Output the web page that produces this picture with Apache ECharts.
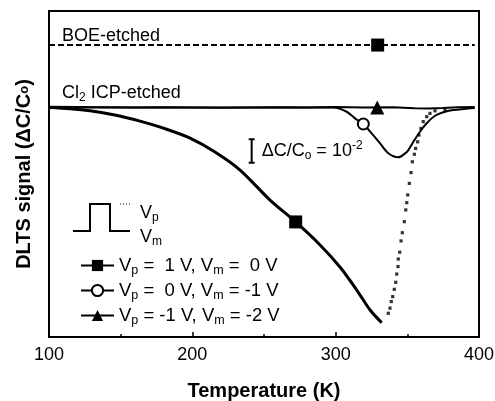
<!DOCTYPE html>
<html><head><meta charset="utf-8">
<script src="https://cdn.jsdelivr.net/npm/echarts@6/dist/echarts.min.js"></script>
<style>html,body{margin:0;padding:0;background:#fff}#c{width:495px;height:401px}</style>
</head><body><div id="c"></div>
<script>
// ---- data (DLTS signal in units of 1e-2 ΔC/Co, Cl2 baseline = 0) ----
const xTicks = [100, 200, 300, 400];
const yRange = [-9.77, 4.11];

// Vp = 1 V, Vm = 0 V (Cl2 ICP-etched) : solid part
const sqT = [100, 114.7, 128.6, 146, 163.5, 180.9, 198.4, 215.8, 233.3, 254.2, 272.1, 289.1, 303.0, 314.7, 324.0, 332.1];
const sqV = [0, -0.05, -0.14, -0.32, -0.58, -0.90, -1.30, -1.89, -2.66, -3.94, -4.87, -5.85, -6.79, -7.77, -8.62, -9.16];
// Vp = 1 V, Vm = 0 V : sparse dotted recovery
const dotT = [336.7,337.9,338.8,339.8,340.9,341.9,342.6,343.5,343.7,344.7,345.6,346.5,347.9,348.9,349.6,350.3,351.4,352.6,353.5,354.9,355.8,357.2,358.1,359.5,361.1,363.5,365.8,369.3,376.3];
const dotV = [-8.76,-8.54,-8.26,-8.05,-7.74,-7.44,-7.09,-6.77,-6.45,-6.16,-5.68,-5.33,-4.86,-4.36,-4.05,-3.72,-3.23,-2.77,-2.31,-1.99,-1.74,-1.46,-1.17,-0.89,-0.60,-0.39,-0.25,-0.14,-0.11];

// Vp = 0 V, Vm = -1 V
const ciT = [100, 200, 290, 298.4, 307.7, 313.5, 319.3, 325.1, 330.9, 336.7, 343.7, 348.4, 350.7, 354.2, 358.8, 363.5, 369.3, 376.3, 382.1, 397];
const ciV = [0, 0, 0, 0, -0.18, -0.46, -0.70, -1.10, -1.52, -1.95, -2.12, -1.95, -1.81, -1.46, -1.03, -0.67, -0.35, -0.18, -0.11, -0.02];

// Vp = -1 V, Vm = -2 V
const trT = [100, 120, 140, 160, 180, 200, 220, 240, 260, 280, 300, 320, 340, 355, 365, 375, 385, 397];
const trV = [0.03, 0.02, 0.01, 0, 0.01, 0, -0.01, 0, 0.01, 0, 0.02, 0, 0.01, -0.03, -0.04, -0.02, 0.01, 0.02];

// BOE-etched
const boeT = [100, 397];
const boeV = [2.66, 2.66];

// single marker positions
const boeMark = [329.3, 2.66];
const sqMark = [272.1, -4.87];
const ciMark = [319.3, -0.70];
const trMark = [329.0, 0.0];

// scale bar (1 unit = 1e-2)
const scaleT = 241.4;
const scaleV = [-1.35, -2.35];

const legendNames = ['a', 'b', 'c'];
const legendLabels = {
  a: '{v|V}{s|p}{v| =  1 V, V}{s|m}{v| =  0 V}',
  b: '{v|V}{s|p}{v| =  0 V, V}{s|m}{v| = -1 V}',
  c: '{v|V}{s|p}{v| = -1 V, V}{s|m}{v| = -2 V}'
};

const FONT = 'Liberation Sans, Arial, Helvetica, sans-serif';
const pairs = (a, b) => a.map((t, i) => [t, b[i]]);

const chart = echarts.init(document.getElementById('c'), null, {renderer: 'canvas'});

const option = {
  animation: false,
  backgroundColor: '#fff',
  grid: {left: 49, right: 16, top: 11, bottom: 64, outerBoundsMode: 'none', containLabel: false},
  xAxis: {
    type: 'value', min: xTicks[0], max: xTicks[xTicks.length - 1], interval: 100,
    name: 'Temperature (K)', nameLocation: 'middle', nameGap: 44,
    nameTextStyle: {fontFamily: FONT, fontSize: 20, fontWeight: 'bold', color: '#000'},
    axisLine: {onZero: false, lineStyle: {color: '#000', width: 2}},
    axisTick: {inside: true, length: 5, lineStyle: {color: '#000', width: 1.5}},
    minorTick: {show: true, splitNumber: 2, length: 3, lineStyle: {color: '#000', width: 1.5}},
    axisLabel: {color: '#000', fontFamily: FONT, fontSize: 18, margin: 9},
    splitLine: {show: false}
  },
  yAxis: {
    type: 'value', min: yRange[0], max: yRange[1],
    name: 'DLTS signal (ΔC/C{s|o})', nameLocation: 'middle', nameGap: 15, nameRotate: 90,
    nameTextStyle: {fontFamily: FONT, fontSize: 20, fontWeight: 'bold', color: '#000',
      rich: {s: {fontFamily: FONT, fontSize: 13, fontWeight: 'bold', color: '#000'}}},
    axisLine: {show: true, onZero: false, lineStyle: {color: '#000', width: 2}},
    axisTick: {show: false}, axisLabel: {show: false}, splitLine: {show: false}
  },
  legend: {
    data: legendNames, orient: 'vertical', left: 75, top: 251, itemGap: 4,
    itemWidth: 33, itemHeight: 14,
    formatter: n => legendLabels[n],
    textStyle: {fontFamily: FONT, fontSize: 18.5, color: '#000',
      rich: {v: {fontFamily: FONT, fontSize: 18.5, color: '#000'},
             s: {fontFamily: FONT, fontSize: 12.5, color: '#000', padding: [10, 0, 0, 0]}}}
  },
  series: [
    {name: 'c', type: 'line', data: pairs(trT, trV), showSymbol: false, symbol: 'triangle', symbolSize: 14,
     lineStyle: {color: '#000', width: 2}, itemStyle: {color: '#000'},
     markPoint: {symbol: 'triangle', symbolSize: 14, itemStyle: {color: '#000'}, label: {show: false}, data: [{coord: trMark}]}},
    {name: 'b', type: 'line', data: pairs(ciT, ciV), showSymbol: false, smooth: 0.3, symbol: 'circle', symbolSize: 11,
     lineStyle: {color: '#000', width: 2}, itemStyle: {color: '#fff', borderColor: '#000', borderWidth: 2},
     markPoint: {symbol: 'circle', symbolSize: 11, itemStyle: {color: '#fff', borderColor: '#000', borderWidth: 2}, label: {show: false}, data: [{coord: ciMark}]}},
    {name: 'a', type: 'line', data: pairs(sqT, sqV), showSymbol: false, smooth: 0.3, symbol: 'rect', symbolSize: 13,
     lineStyle: {color: '#000', width: 3}, itemStyle: {color: '#000'},
     markPoint: {symbol: 'rect', symbolSize: 13, itemStyle: {color: '#000'}, label: {show: false}, data: [{coord: sqMark}]}},
    {name: 'a-dots', type: 'scatter', data: pairs(dotT, dotV), symbol: 'rect', symbolSize: 3.2, itemStyle: {color: '#000'}},
    {name: 'boe', type: 'line', data: pairs(boeT, boeV), showSymbol: false, symbol: 'none',
     lineStyle: {color: '#000', width: 2, type: [6, 3]},
     markPoint: {symbol: 'rect', symbolSize: 13, itemStyle: {color: '#000'}, label: {show: false}, data: [{coord: boeMark}]}}
  ]
};
chart.setOption(option);

const toPx = v => chart.convertToPixel({xAxisIndex: 0, yAxisIndex: 0}, v);
const p1 = toPx([scaleT, scaleV[0]]);
const p2 = toPx([scaleT, scaleV[1]]);
const tl = toPx([xTicks[0], yRange[1]]);
const br = toPx([xTicks[xTicks.length - 1], yRange[0]]);
const ls = {stroke: '#000', lineWidth: 2};
const txt = (x, y, text, rich, size) => ({type: 'text', x: x, y: y, style: {text: text, fill: '#000', font: (size || 18) + 'px ' + FONT, verticalAlign: 'middle', rich: rich || {}}});
const subRich = {n: {fontSize: 18, fontFamily: FONT, fill: '#000'}, s: {fontSize: 12, fontFamily: FONT, fill: '#000', padding: [10, 0, 0, 0]}, u: {fontSize: 12, fontFamily: FONT, fill: '#000', padding: [0, 0, 10, 0]}};

chart.setOption({
  graphic: [
    {type: 'rect', z: 100, shape: {x: Math.round(tl[0]), y: Math.round(tl[1]), width: Math.round(br[0] - tl[0]), height: Math.round(br[1] - tl[1])},
     style: {fill: 'none', stroke: '#000', lineWidth: 2}},
    {type: 'line', shape: {x1: p1[0], y1: p1[1], x2: p2[0], y2: p2[1]}, style: ls},
    {type: 'line', shape: {x1: p1[0] - 3, y1: p1[1], x2: p1[0] + 3, y2: p1[1]}, style: ls},
    {type: 'line', shape: {x1: p2[0] - 3, y1: p2[1], x2: p2[0] + 3, y2: p2[1]}, style: ls},
    txt(p1[0] + 10, (p1[1] + p2[1]) / 2, '{n|ΔC/C}{s|o}{n| = 10}{u|-2}', subRich),
    txt(62, 36, 'BOE-etched'),
    txt(62, 93, '{n|Cl}{s|2}{n| ICP-etched}', subRich),
    {type: 'polyline', shape: {points: [[73, 231], [90, 231], [90, 204], [110, 204], [110, 231], [130, 231]]}, style: {stroke: '#000', lineWidth: 2, fill: null}},
    {type: 'line', shape: {x1: 120, y1: 204, x2: 132, y2: 204}, style: {stroke: '#000', lineWidth: 1, lineDash: [1, 2]}},
    txt(140, 213, '{n|V}{s|p}', subRich),
    txt(140, 237, '{n|V}{s|m}', subRich)
  ]
});
</script></body></html>
